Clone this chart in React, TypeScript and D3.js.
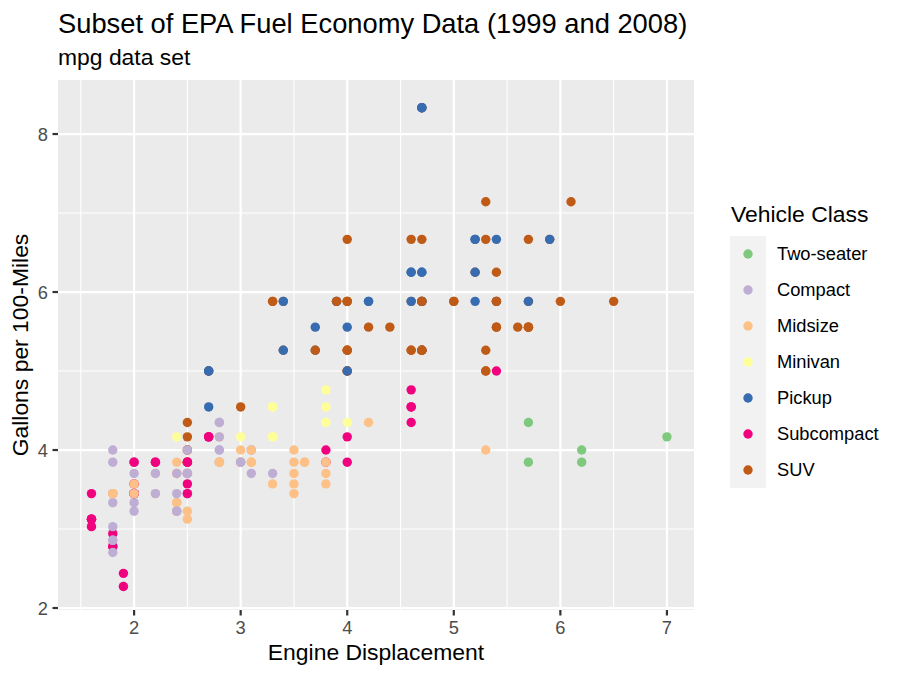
import * as d3 from 'd3'
import { FC } from 'react'

// vehicle classes in legend order
const classNames = ['Two-seater', 'Compact', 'Midsize', 'Minivan', 'Pickup', 'Subcompact', 'SUV']
const classColors = ['#7FC97F', '#BEAED4', '#FDC086', '#FFFF99', '#386CB0', '#F0027F', '#BF5B17']

// engine displacement (litres), row order of the data set
const displ = [
  1.8, 1.8, 2.0, 2.0, 2.8, 2.8, 3.1,
  1.8, 1.8, 2.0, 2.0, 2.8, 2.8, 3.1, 3.1,
  2.8, 3.1, 4.2,
  5.3, 5.3, 5.3, 5.7, 6.0,
  5.7, 5.7, 6.2, 6.2, 7.0,
  5.3, 5.3, 5.7, 6.5,
  2.4, 2.4, 3.1, 3.5, 3.6,
  2.4, 3.0, 3.3, 3.3, 3.3, 3.3, 3.3, 3.8, 3.8, 3.8, 4.0,
  3.7, 3.7, 3.9, 3.9, 4.7, 4.7, 4.7, 5.2, 5.2,
  3.9, 4.7, 4.7, 4.7, 5.2, 5.7, 5.9,
  4.7, 4.7, 4.7, 4.7, 4.7, 4.7, 5.2, 5.2, 5.7, 5.9,
  4.6, 5.4, 5.4,
  4.0, 4.0, 4.0, 4.0, 4.6, 5.0,
  4.2, 4.2, 4.6, 4.6, 4.6, 5.4, 5.4,
  3.8, 3.8, 4.0, 4.0, 4.6, 4.6, 4.6, 4.6, 5.4,
  1.6, 1.6, 1.6, 1.6, 1.6, 1.8, 1.8, 1.8, 2.0,
  2.4, 2.4, 2.4, 2.4, 2.5, 2.5, 3.3,
  2.0, 2.0, 2.0, 2.0, 2.7, 2.7, 2.7,
  3.0, 3.7, 4.0, 4.7, 4.7, 4.7, 5.7, 6.1,
  4.0, 4.2, 4.4, 4.6,
  5.4, 5.4, 5.4,
  4.0, 4.0, 4.6, 5.0,
  2.4, 2.4, 2.5, 2.5, 3.5, 3.5,
  3.0, 3.0, 3.5,
  3.3, 3.3, 4.0, 5.6,
  3.1, 3.8, 3.8, 3.8, 5.3,
  2.5, 2.5, 2.5, 2.5, 2.5, 2.5,
  2.2, 2.2, 2.5, 2.5, 2.5, 2.5, 2.5, 2.5,
  2.7, 2.7, 3.4, 3.4, 4.0, 4.7,
  2.2, 2.2, 2.4, 2.4, 3.0, 3.0, 3.5,
  2.2, 2.2, 2.4, 2.4, 3.0, 3.0, 3.3,
  1.8, 1.8, 1.8, 1.8, 1.8,
  4.7, 5.7,
  2.7, 2.7, 2.7, 3.4, 3.4, 4.0, 4.0,
  2.0, 2.0, 2.0, 2.0, 2.8,
  1.9, 2.0, 2.0, 2.0, 2.0, 2.5, 2.5, 2.8, 2.8,
  1.9, 1.9, 2.0, 2.0, 2.5, 2.5,
  1.8, 1.8, 2.0, 2.0, 2.8, 2.8, 3.6,
]

// highway miles per gallon, same rows
const hwy = [
  29, 29, 31, 30, 26, 26, 27,
  26, 25, 28, 27, 25, 25, 25, 25,
  24, 25, 23,
  20, 15, 20, 17, 17,
  26, 23, 26, 25, 24,
  19, 14, 15, 17,
  27, 30, 26, 29, 26,
  24, 24, 22, 22, 24, 24, 17, 22, 21, 23, 23,
  19, 18, 17, 17, 19, 19, 12, 17, 15,
  17, 17, 12, 17, 16, 18, 15,
  16, 12, 17, 17, 16, 12, 15, 16, 17, 15,
  17, 17, 18,
  17, 19, 17, 19, 19, 17,
  17, 17, 16, 16, 17, 15, 17,
  26, 25, 26, 24, 21, 22, 23, 22, 20,
  33, 32, 32, 29, 32, 34, 36, 36, 29,
  26, 27, 30, 31, 26, 26, 28,
  26, 29, 28, 29, 24, 24, 24,
  22, 19, 20, 17, 19, 19, 18, 14,
  15, 18, 18, 15,
  17, 16, 18,
  17, 19, 19, 17,
  29, 27, 31, 32, 27, 26,
  26, 25, 25,
  17, 17, 20, 18,
  26, 26, 27, 28, 25,
  25, 24, 27, 25, 26, 23,
  26, 26, 26, 26, 27, 27, 25, 27,
  20, 20, 19, 17, 20, 19,
  29, 27, 31, 31, 26, 26, 28,
  27, 29, 31, 31, 26, 26, 27,
  30, 33, 35, 37, 35,
  15, 18,
  20, 20, 22, 17, 19, 18, 20,
  29, 26, 29, 29, 23,
  44, 29, 26, 29, 29, 29, 29, 23, 24,
  44, 41, 29, 26, 28, 29,
  29, 29, 28, 29, 26, 26, 26,
]

// class index (into classNames), same rows
const vclass = [
  1, 1, 1, 1, 1, 1, 1,
  1, 1, 1, 1, 1, 1, 1, 1,
  2, 2, 2,
  6, 6, 6, 6, 6,
  0, 0, 0, 0, 0,
  6, 6, 6, 6,
  2, 2, 2, 2, 2,
  3, 3, 3, 3, 3, 3, 3, 3, 3, 3, 3,
  4, 4, 4, 4, 4, 4, 4, 4, 4,
  6, 6, 6, 6, 6, 6, 6,
  4, 4, 4, 4, 4, 4, 4, 4, 4, 4,
  6, 6, 6,
  6, 6, 6, 6, 6, 6,
  4, 4, 4, 4, 4, 4, 4,
  5, 5, 5, 5, 5, 5, 5, 5, 5,
  5, 5, 5, 5, 5, 5, 5, 5, 5,
  2, 2, 2, 2, 2, 2, 2,
  5, 5, 5, 5, 5, 5, 5,
  6, 6, 6, 6, 6, 6, 6, 6,
  6, 6, 6, 6,
  6, 6, 6,
  6, 6, 6, 6,
  1, 1, 2, 2, 2, 2,
  2, 2, 2,
  6, 6, 6, 6,
  2, 2, 2, 2, 2,
  6, 6, 6, 6, 6, 6,
  5, 5, 5, 5, 1, 1, 1, 1,
  6, 6, 6, 6, 6, 6,
  2, 2, 2, 2, 2, 2, 2,
  1, 1, 1, 1, 1, 1, 1,
  1, 1, 1, 1, 1,
  6, 6,
  4, 4, 4, 4, 4, 4, 4,
  1, 1, 1, 1, 1,
  1, 1, 1, 1, 1, 1, 1, 1, 1,
  5, 5, 5, 5, 5, 5,
  2, 2, 2, 2, 2, 2, 2,
]

const xTicks = [2, 3, 4, 5, 6, 7]
const xMinor = [1.5, 2.5, 3.5, 4.5, 5.5, 6.5]
const yTicks = [2, 4, 6, 8]
const yMinor = [3, 5, 7]

const font = '"Liberation Sans", Arial, Helvetica, sans-serif'

const App: FC = () => {
  const width = 900
  const height = 675
  const panel = { left: 58, right: 694, top: 80, bottom: 610 }

  const x = d3.scaleLinear().domain([1.286, 7.254]).range([panel.left, panel.right])
  const y = d3.scaleLinear().domain([1.975, 8.684]).range([panel.bottom, panel.top])

  // gallons per 100 miles
  const points = displ.map((d, i) => ({ d, g: 100 / hwy[i], c: vclass[i] }))

  const legendX = 730
  const legendTop = 236
  const keySize = 36

  return (
    <svg
      width={width}
      height={height}
      style={{ position: 'absolute', left: 0, top: 0, background: '#fff' }}
      fontFamily={font}
    >
      {/* titles */}
      <text x={58} y={33} fontSize={27.3} fill="#000">
        Subset of EPA Fuel Economy Data (1999 and 2008)
      </text>
      <text x={58} y={65} fontSize={22.9} fill="#000">
        mpg data set
      </text>

      {/* panel */}
      <rect
        x={panel.left}
        y={panel.top}
        width={panel.right - panel.left}
        height={panel.bottom - panel.top}
        fill="#EBEBEB"
      />
      {xMinor.map((t) => (
        <line key={'xm' + t} x1={x(t)} x2={x(t)} y1={panel.top} y2={panel.bottom} stroke="#fff" strokeWidth={1.1} />
      ))}
      {yMinor.map((t) => (
        <line key={'ym' + t} x1={panel.left} x2={panel.right} y1={y(t)} y2={y(t)} stroke="#fff" strokeWidth={1.1} />
      ))}
      {xTicks.map((t) => (
        <line key={'xg' + t} x1={x(t)} x2={x(t)} y1={panel.top} y2={panel.bottom} stroke="#fff" strokeWidth={2.2} />
      ))}
      {yTicks.map((t) => (
        <line key={'yg' + t} x1={panel.left} x2={panel.right} y1={y(t)} y2={y(t)} stroke="#fff" strokeWidth={2.2} />
      ))}

      {/* points */}
      {points.map((p, i) => (
        <circle key={i} cx={x(p.d)} cy={y(p.g)} r={4.7} fill={classColors[p.c]} />
      ))}

      {/* x axis */}
      {xTicks.map((t) => (
        <g key={'xt' + t}>
          <line x1={x(t)} x2={x(t)} y1={panel.bottom} y2={panel.bottom + 5.5} stroke="#333" strokeWidth={2.2} />
          <text x={x(t)} y={panel.bottom + 24} textAnchor="middle" fontSize={18.3} fill="#4D4D4D">
            {t}
          </text>
        </g>
      ))}
      <text x={(panel.left + panel.right) / 2} y={660} textAnchor="middle" fontSize={22.9} fill="#000">
        Engine Displacement
      </text>

      {/* y axis */}
      {yTicks.map((t) => (
        <g key={'yt' + t}>
          <line x1={panel.left - 5.5} x2={panel.left} y1={y(t)} y2={y(t)} stroke="#333" strokeWidth={2.2} />
          <text x={panel.left - 10} y={y(t) + 6.5} textAnchor="end" fontSize={18.3} fill="#4D4D4D">
            {t}
          </text>
        </g>
      ))}
      <text
        transform={`translate(28, ${(panel.top + panel.bottom) / 2}) rotate(-90)`}
        textAnchor="middle"
        fontSize={22.9}
        fill="#000"
      >
        Gallons per 100-Miles
      </text>

      {/* legend */}
      <text x={731} y={222} fontSize={22.9} fill="#000">
        Vehicle Class
      </text>
      <rect x={legendX} y={legendTop} width={keySize} height={keySize * classNames.length} fill="#F2F2F2" />
      {classNames.map((name, i) => (
        <g key={name}>
          <circle cx={legendX + keySize / 2} cy={legendTop + keySize * i + keySize / 2} r={4.7} fill={classColors[i]} />
          <text x={777} y={legendTop + keySize * i + keySize / 2 + 6.3} fontSize={18.3} fill="#000">
            {name}
          </text>
        </g>
      ))}
    </svg>
  )
}

export default App
